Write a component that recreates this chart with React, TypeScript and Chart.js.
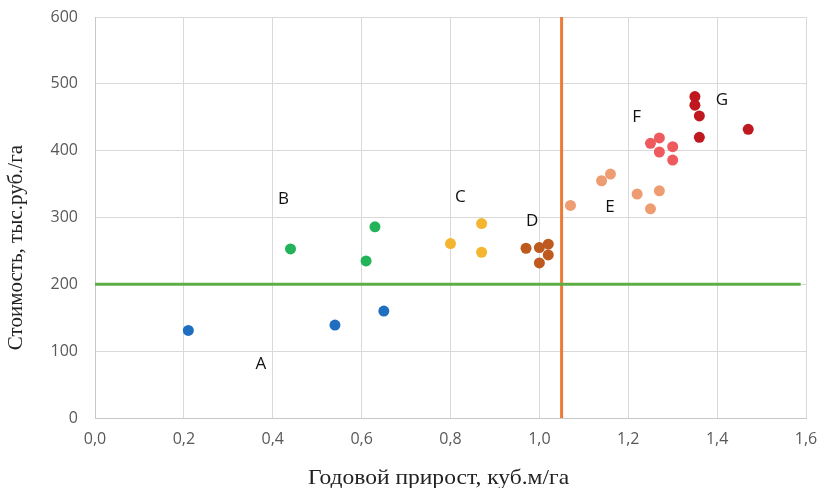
import React, { useEffect, useRef } from "react";
import { Chart, registerables } from "chart.js";

Chart.register(...registerables);

// Group names and colours
const groupNames = ["A", "B", "C", "D", "E", "F", "G"];
const groupColors = ["#1F6EC0", "#23B35A", "#F4B530", "#BE5A1F", "#EE9D73", "#EE5A5D", "#C0181F"];

// Points per group: x = annual growth (m3/ha), y = cost (thousand rub/ha)
const groupA_x = [0.21, 0.54, 0.65];
const groupA_y = [131, 139, 160];
const groupB_x = [0.44, 0.61, 0.63];
const groupB_y = [253, 235, 286];
const groupC_x = [0.8, 0.87, 0.87];
const groupC_y = [261, 291, 248];
const groupD_x = [0.97, 1.0, 1.02, 1.02, 1.0];
const groupD_y = [254, 255, 260, 244, 232];
const groupE_x = [1.07, 1.14, 1.16, 1.22, 1.25, 1.27];
const groupE_y = [318, 355, 365, 335, 313, 340];
const groupF_x = [1.25, 1.27, 1.27, 1.3, 1.3];
const groupF_y = [411, 419, 398, 406, 386];
const groupG_x = [1.35, 1.35, 1.36, 1.36, 1.47];
const groupG_y = [481, 468, 452, 420, 432];

// Group label positions (data coordinates)
const labelX = [0.373, 0.424, 0.822, 0.984, 1.159, 1.219, 1.411];
const labelY = [81, 328, 331, 295, 316, 450, 476];

// Threshold lines
const costThreshold = 200;
const costLineEndX = 1.588;
const growthThreshold = 1.05;

// Axis ranges / ticks
const xMin = 0, xMax = 1.6, xStep = 0.2;
const yMin = 0, yMax = 600, yStep = 100;

const xTitle = "Годовой прирост, куб.м/га";
const yTitle = "Стоимость, тыс.руб./га";

const groupXs = [groupA_x, groupB_x, groupC_x, groupD_x, groupE_x, groupF_x, groupG_x];
const groupYs = [groupA_y, groupB_y, groupC_y, groupD_y, groupE_y, groupF_y, groupG_y];

const annotPlugin = {
  id: "annot",
  afterDatasetsDraw(chart: any) {
    const { ctx, scales, chartArea } = chart;
    ctx.save();
    ctx.fillStyle = "#111";
    ctx.font = '17px "Open Sans"';
    ctx.textAlign = "center";
    ctx.textBaseline = "middle";
    groupNames.forEach((n, i) => {
      ctx.fillText(n, scales.x.getPixelForValue(labelX[i]), scales.y.getPixelForValue(labelY[i]));
    });
    ctx.fillStyle = "#222";
    ctx.font = '21px "Liberation Serif"';
    ctx.save();
    ctx.translate((chartArea.left + chartArea.right) / 2 - 12, chartArea.bottom + 60);
    ctx.scale(1.12, 1);
    ctx.fillText(xTitle, 0, 0);
    ctx.restore();
    ctx.translate(16, (chartArea.top + chartArea.bottom) / 2 + 30);
    ctx.rotate(-Math.PI / 2);
    ctx.fillText(yTitle, 0, 0);
    ctx.restore();
  },
};

export default function App() {
  const ref = useRef<HTMLCanvasElement>(null);
  useEffect(() => {
    document.body.style.margin = "0";
    const datasets: any[] = [
      {
        label: "threshold-cost",
        data: [{ x: 0, y: costThreshold }, { x: costLineEndX, y: costThreshold }],
        showLine: true,
        borderColor: "#5DAF45",
        borderWidth: 3,
        pointRadius: 0,
        order: 2,
      },
      {
        label: "threshold-growth",
        data: [{ x: growthThreshold, y: yMin }, { x: growthThreshold, y: yMax }],
        showLine: true,
        borderColor: "#EC7B3A",
        borderWidth: 3,
        pointRadius: 0,
        order: 2,
      },
    ];
    groupNames.forEach((n, i) => {
      datasets.push({
        label: n,
        data: groupXs[i].map((x, j) => ({ x, y: groupYs[i][j] })),
        backgroundColor: groupColors[i],
        borderColor: groupColors[i],
        borderWidth: 0,
        pointRadius: 5.5,
        order: 1,
      });
    });
    const chart = new Chart(ref.current!, {
      type: "scatter",
      data: { datasets },
      options: {
        animation: false,
        responsive: false,
        devicePixelRatio: 1,
        layout: { padding: { top: 17, right: 14, left: 0, bottom: 0 } },
        plugins: { legend: { display: false }, tooltip: { enabled: false } },
        scales: {
          x: {
            type: "linear",
            min: xMin,
            max: xMax,
            afterFit: (s: any) => {
              s.height = 70;
              s.paddingLeft = 0;
              s.paddingRight = 0;
            },
            ticks: {
              stepSize: xStep,
              color: "#595959",
              font: { family: "Open Sans", size: 16 },
              padding: 12,
              callback: (v: any) => Number(v).toFixed(1).replace(".", ","),
            },
            grid: { color: "#D9D9D9", drawTicks: false },
            border: { color: "#C8C8C8" },
          },
          y: {
            type: "linear",
            min: yMin,
            max: yMax,
            afterFit: (s: any) => {
              s.width = 95;
              s.paddingTop = 0;
              s.paddingBottom = 0;
            },
            ticks: {
              stepSize: yStep,
              color: "#595959",
              font: { family: "Open Sans", size: 16 },
              padding: 17,
            },
            grid: { color: "#D9D9D9", drawTicks: false },
            border: { color: "#C8C8C8" },
          },
        },
      },
      plugins: [annotPlugin],
    });
    return () => chart.destroy();
  }, []);
  return <canvas ref={ref} width={820} height={488} style={{ display: "block" }} />;
}
